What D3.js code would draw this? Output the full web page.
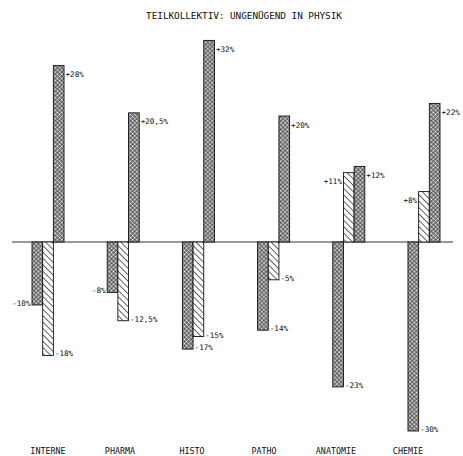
<!DOCTYPE html>
<html>
<head>
<meta charset="utf-8">
<script src="https://cdn.jsdelivr.net/npm/d3@7/dist/d3.min.js"></script>
<style>
  html, body { margin: 0; padding: 0; background: #fff; }
  svg { display: block; }
  text { font-family: "DejaVu Sans Mono", "Liberation Mono", monospace; fill: #111; }
</style>
</head>
<body>
<svg id="chart" width="463" height="456"></svg>
<script>
// ---- data ----
const title = "TEILKOLLEKTIV: UNGENÜGEND IN PHYSIK";
const categories = ["INTERNE", "PHARMA", "HISTO", "PATHO", "ANATOMIE", "CHEMIE"];
const seriesKeys = ["a", "b", "c"];
const seriesA = [-10, -8, -17, -14, -23, -30];
const seriesB = [-18, -12.5, -15, -6, 11, 8];
const seriesC = [28, 20.5, 32, 20, 12, 22];
const labelsA = ["-10%", "-8%", "-17%", "-14%", "-23%", "-30%"];
const labelsB = ["-18%", "-12,5%", "-15%", "-5%", "+11%", "+8%"];
const labelsC = ["+28%", "+20,5%", "+32%", "+20%", "+12%", "+22%"];
const sideA = ["L", "L", "R", "R", "R", "R"];
const sideB = ["R", "R", "R", "R", "L", "L"];
const sideC = ["R", "R", "R", "R", "R", "R"];

const svg = d3.select("#chart");
const defs = svg.append("defs");

// crosshatch (checker) pattern, diamond mesh
const pc = defs.append("pattern").attr("id", "checker")
  .attr("patternUnits", "userSpaceOnUse").attr("width", 3).attr("height", 3)
  .attr("patternTransform", "rotate(45)");
pc.append("rect").attr("width", 3).attr("height", 3).attr("fill", "#333");
pc.append("rect").attr("x", 0.5).attr("y", 0.5).attr("width", 2).attr("height", 2).attr("fill", "#fff");

// diagonal hatch pattern "\"
const ph = defs.append("pattern").attr("id", "hatch")
  .attr("patternUnits", "userSpaceOnUse").attr("width", 4.5).attr("height", 4.5)
  .attr("patternTransform", "rotate(-45)");
ph.append("rect").attr("width", 4.5).attr("height", 4.5).attr("fill", "#fff");
ph.append("line").attr("x1", 0).attr("y1", 0).attr("x2", 0).attr("y2", 4.5)
  .attr("stroke", "#111").attr("stroke-width", 1.3);

const fills = { a: "url(#checker)", b: "url(#hatch)", c: "url(#checker)" };

// ---- scales ----
const x0 = d3.scaleBand().domain(categories).range([32, 440]).paddingInner(0.574).paddingOuter(0);
const x1 = d3.scaleBand().domain(seriesKeys).range([0, x0.bandwidth()]).padding(0);
const y = d3.scaleLinear().domain([-30, 32]).range([431, 40.4]);
const xl = d3.scalePoint().domain(categories).range([48, 408]);

const rows = categories.map((c, i) => ({
  cat: c,
  bars: [
    { key: "a", v: seriesA[i], label: labelsA[i], side: sideA[i] },
    { key: "b", v: seriesB[i], label: labelsB[i], side: sideB[i] },
    { key: "c", v: seriesC[i], label: labelsC[i], side: sideC[i] }
  ]
}));

// title
svg.append("text").attr("x", 244).attr("y", 18.5).attr("text-anchor", "middle")
  .attr("font-size", 9.4).attr("letter-spacing", -0.05).text(title);

// baseline
svg.append("line").attr("x1", 12).attr("x2", 453).attr("y1", y(0)).attr("y2", y(0))
  .attr("stroke", "#333").attr("stroke-width", 1);

const g = svg.selectAll("g.grp").data(rows).join("g").attr("class", "grp")
  .attr("transform", d => `translate(${x0(d.cat)},0)`);

g.selectAll("rect").data(d => d.bars).join("rect")
  .attr("x", d => x1(d.key))
  .attr("width", x1.bandwidth())
  .attr("y", d => y(Math.max(0, d.v)))
  .attr("height", d => Math.abs(y(d.v) - y(0)))
  .attr("fill", d => fills[d.key])
  .attr("stroke", "#111").attr("stroke-width", 0.9);

g.selectAll("text.val").data(d => d.bars).join("text").attr("class", "val")
  .attr("font-size", 7.6)
  .attr("x", d => d.side === "R" ? x1(d.key) + x1.bandwidth() + 1.5 : x1(d.key) - 1.5)
  .attr("text-anchor", d => d.side === "R" ? "start" : "end")
  .attr("y", d => d.v >= 0 ? y(d.v) + 11.5 : y(d.v) + 1)
  .text(d => d.label);

// category labels
svg.selectAll("text.cat").data(categories).join("text").attr("class", "cat")
  .attr("x", d => xl(d)).attr("y", 454).attr("text-anchor", "middle")
  .attr("font-size", 8.4).text(d => d);
</script>
</body>
</html>
